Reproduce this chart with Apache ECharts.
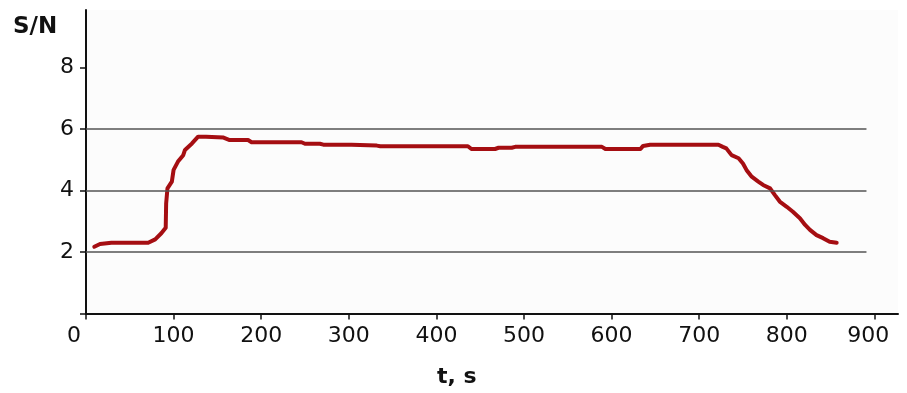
<!DOCTYPE html>
<html>
<head>
<meta charset="utf-8">
<script src="https://cdn.jsdelivr.net/npm/echarts@6/dist/echarts.min.js"></script>
<style>
  html, body { margin: 0; padding: 0; background: #fff; }
  #chart { width: 907px; height: 393px; }
</style>
</head>
<body>
<div id="chart"></div>
<script>
// time (s) and signal/noise ratio
const times = [9.5, 16, 29, 50, 71, 79, 86, 91, 91.5, 93, 98, 100, 105, 111, 113, 121, 128, 137, 157, 164,
  185, 189, 246, 250, 267, 271, 303, 305, 332, 336, 436, 440, 467, 471, 486, 490, 589, 593, 633, 636,
  644, 722, 727, 731, 737, 745, 750, 754, 760, 767.5, 773, 781, 786.5, 792, 800, 807, 815, 821, 826.5,
  834, 841.5, 849, 857];
const snr = [2.17, 2.26, 2.30, 2.30, 2.30, 2.41, 2.61, 2.79, 3.58, 4.07, 4.29, 4.67, 4.94, 5.15, 5.32, 5.53, 5.75, 5.75, 5.72, 5.64,
  5.64, 5.57, 5.57, 5.52, 5.52, 5.49, 5.49, 5.46, 5.46, 5.44, 5.44, 5.35, 5.35, 5.39, 5.39, 5.42, 5.42, 5.35, 5.35, 5.45,
  5.49, 5.49, 5.42, 5.37, 5.15, 5.05, 4.88, 4.67, 4.45, 4.29, 4.18, 4.07, 3.85, 3.64, 3.47, 3.31, 3.10, 2.88, 2.72,
  2.55, 2.45, 2.33, 2.30];
const xTicks = [0, 100, 200, 300, 400, 500, 600, 700, 800, 900];
const yLabels = [2, 4, 6, 8];
const yTicks = [0, 2, 4, 6, 8];
const gridLevels = [2, 4, 6];

const lineEnd = 891; // horizontal reference lines stop short of the axis end
const font = '"DejaVu Sans", sans-serif';
const ink = '#111';

const chart = echarts.init(document.getElementById('chart'));
chart.setOption({
  animation: false,
  grid: {
    left: 86, right: 9, top: 10, bottom: 79.5,
    show: true, backgroundColor: '#fcfcfc', borderWidth: 0
  },
  xAxis: {
    type: 'value', min: 0, max: 927,
    axisLine: { show: true, onZero: false, lineStyle: { color: ink, width: 2 } },
    axisTick: { show: true, customValues: xTicks, length: 6, lineStyle: { color: ink, width: 1.5 } },
    axisLabel: {
      customValues: xTicks, margin: 12, color: ink, fontSize: 22, fontFamily: font,
      formatter: v => v === 0 ? '{z|0}' : (v === 900 ? '{n|900}' : String(v)),
      rich: {
        z: { fontSize: 22, fontFamily: font, color: ink, padding: [0, 24, 0, 0] },
        n: { fontSize: 22, fontFamily: font, color: ink, padding: [0, 12, 0, 0] }
      }
    },
    splitLine: { show: false }
  },
  yAxis: {
    type: 'value', min: 0, max: 9.87,
    axisLine: { show: true, onZero: false, lineStyle: { color: ink, width: 2 } },
    axisTick: { show: true, customValues: yTicks, length: 6, lineStyle: { color: ink, width: 1.5 } },
    axisLabel: { customValues: yLabels, margin: 12, color: ink, fontSize: 22, fontFamily: font },
    splitLine: { show: false }
  },
  graphic: [
    { type: 'text', left: 13, top: 16, style: { text: 'S/N', fontSize: 23, fontWeight: 'bold', fontFamily: font, fill: ink } },
    { type: 'text', left: 437, top: 366, style: { text: 't, s', fontSize: 22, fontWeight: 'bold', fontFamily: font, fill: ink } }
  ],
  series: [{
    type: 'line',
    data: times.map((t, i) => [t, snr[i]]),
    showSymbol: false,
    smooth: false,
    lineStyle: { color: '#a50e12', width: 4, cap: 'round', join: 'round' },
    markLine: {
      silent: true,
      symbol: 'none',
      label: { show: false },
      lineStyle: { color: '#555', width: 1.5, type: 'solid' },
      emphasis: { disabled: true },
      data: gridLevels.map(v => [{ coord: [0, v] }, { coord: [lineEnd, v] }])
    },
    z: 3
  }]
});
</script>
</body>
</html>
